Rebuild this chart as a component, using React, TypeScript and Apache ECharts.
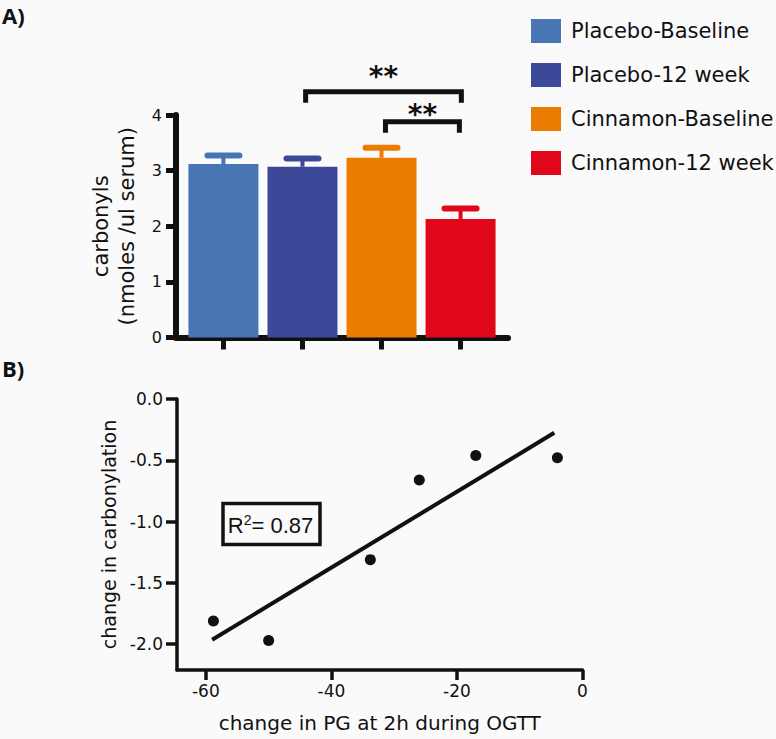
import React, { useEffect, useRef } from "react";
import * as echarts from "echarts";

// ---------- Panel A data ----------
const groups = ["Placebo-Baseline", "Placebo-12 week", "Cinnamon-Baseline", "Cinnamon-12 week"];
const groupColors = ["#4876b5", "#3c4898", "#ec7c00", "#e1071b"];
const carbonyls = [3.12, 3.07, 3.23, 2.13];
const carbonylsSem = [0.15, 0.15, 0.18, 0.19];
const barPositions = [0, 1, 2, 3];
// significance brackets: from/to in group index, levels in axis units
const bracketFrom = [1.04, 2.05];
const bracketTo = [3.01, 2.985];
const bracketLevel = [4.42, 3.88];
const bracketLeg = [4.22, 3.68];
const bracketStarY = [4.69, 4.01];
const bracketLabels = ["**", "**"];

// ---------- Panel B data ----------
const pgChange = [-58.8, -50, -33.8, -26, -17, -4];
const carbonylationChange = [-1.81, -1.97, -1.31, -0.66, -0.46, -0.48];
const scatterXTicks = [-60, -40, -20, 0];
const scatterYTicks = [0, -0.5, -1, -1.5, -2];
const fitRange = [-59, -4.5];
const rSquared = "0.87";

const FONT = "DejaVu Sans";
const INK = "#111111";

function linearFit(xs: number[], ys: number[]) {
  const n = xs.length;
  const mx = xs.reduce((a, b) => a + b, 0) / n;
  const my = ys.reduce((a, b) => a + b, 0) / n;
  let sxy = 0, sxx = 0;
  for (let i = 0; i < n; i++) {
    sxy += (xs[i] - mx) * (ys[i] - my);
    sxx += (xs[i] - mx) * (xs[i] - mx);
  }
  const slope = sxy / sxx;
  return { slope, intercept: my - slope * mx };
}

export default function App() {
  const ref = useRef<HTMLDivElement>(null);

  useEffect(() => {
    if (!ref.current) return;
    const chart = echarts.init(ref.current, null, { renderer: "svg" });
    const fit = linearFit(pgChange, carbonylationChange);
    const fitData = fitRange.map((x) => [x, fit.intercept + fit.slope * x]);

    const barSeries = groups.map((g, i) => ({
      type: "bar",
      name: g,
      xAxisIndex: 0,
      yAxisIndex: 0,
      barWidth: 70,
      barGap: "-100%",
      data: [[barPositions[i], carbonyls[i]]],
      itemStyle: { color: groupColors[i] },
      z: 2,
    }));

    const option: any = {
      animation: false,
      backgroundColor: "#fafafa",
      legend: {
        orient: "vertical",
        left: 531,
        top: 19,
        padding: 0,
        itemWidth: 30,
        itemHeight: 24,
        itemGap: 20,
        icon: "rect",
        selectedMode: false,
        data: groups,
        textStyle: { fontFamily: FONT, fontSize: 21, color: INK, padding: [0, 0, 0, 5] },
      },
      grid: [
        { left: 176, top: 115, width: 332, height: 222.5 },
        { left: 177, top: 399, width: 405.5, height: 271 },
      ],
      xAxis: [
        {
          type: "value",
          gridIndex: 0,
          min: -0.6,
          max: 3.6,
          axisLine: { show: true, onZero: false, lineStyle: { color: INK, width: 6 } },
          axisTick: { show: true, customValues: barPositions, length: 12, lineStyle: { color: INK, width: 5 } },
          axisLabel: { show: false },
          splitLine: { show: false },
        },
        {
          type: "value",
          gridIndex: 1,
          min: -64.6,
          max: 0,
          axisLine: { show: true, onZero: false, lineStyle: { color: INK, width: 3.5 } },
          axisTick: { show: true, customValues: scatterXTicks, length: 10, lineStyle: { color: INK, width: 3.5 } },
          axisLabel: { customValues: scatterXTicks, fontFamily: FONT, fontSize: 17, color: INK, margin: 12 },
          splitLine: { show: false },
          name: "change in PG at 2h during OGTT",
          nameLocation: "middle",
          nameGap: 43,
          nameTextStyle: { fontFamily: FONT, fontSize: 20, color: INK },
        },
      ],
      yAxis: [
        {
          type: "value",
          gridIndex: 0,
          min: 0,
          max: 4,
          interval: 1,
          axisLine: { show: true, onZero: false, lineStyle: { color: INK, width: 6 } },
          axisTick: { show: true, length: 10, lineStyle: { color: INK, width: 5 } },
          axisLabel: { fontFamily: FONT, fontSize: 16, color: INK, margin: 14 },
          splitLine: { show: false },
          name: "carbonyls\n(nmoles /ul serum)",
          nameLocation: "middle",
          nameRotate: 90,
          nameGap: 36,
          nameTextStyle: { fontFamily: FONT, fontSize: 21, color: INK, lineHeight: 26 },
        },
        {
          type: "value",
          gridIndex: 1,
          min: -2.21,
          max: 0,
          axisLine: { show: true, onZero: false, lineStyle: { color: INK, width: 3.5 } },
          axisTick: { show: true, customValues: scatterYTicks, length: 11, lineStyle: { color: INK, width: 3.5 } },
          axisLabel: {
            customValues: scatterYTicks,
            formatter: (v: number) => v.toFixed(1),
            fontFamily: FONT,
            fontSize: 17,
            color: INK,
            margin: 14,
          },
          splitLine: { show: false },
          name: "change in carbonylation",
          nameLocation: "middle",
          nameRotate: 90,
          nameGap: 57,
          nameTextStyle: { fontFamily: FONT, fontSize: 19, color: INK },
        },
      ],
      series: [
        ...barSeries,
        {
          type: "custom",
          name: "sem",
          xAxisIndex: 0,
          yAxisIndex: 0,
          z: 3,
          encode: { x: 0, y: [1, 2] },
          data: carbonyls.map((v, i) => [barPositions[i], v, v + carbonylsSem[i]]),
          renderItem: (params: any, api: any) => {
            const x = api.value(0);
            const base = api.coord([x, api.value(1)]);
            const top = api.coord([x, api.value(2)]);
            const color = groupColors[params.dataIndex];
            return {
              type: "group",
              children: [
                { type: "line", shape: { x1: base[0], y1: base[1], x2: top[0], y2: top[1] }, style: { stroke: color, lineWidth: 4 } },
                {
                  type: "line",
                  shape: { x1: top[0] - 16, y1: top[1], x2: top[0] + 16, y2: top[1] },
                  style: { stroke: color, lineWidth: 6, lineCap: "round" },
                },
              ],
            };
          },
        },
        {
          type: "custom",
          name: "significance",
          xAxisIndex: 0,
          yAxisIndex: 0,
          z: 4,
          clip: false,
          encode: { x: [0, 1], y: [2, 3, 4] },
          data: bracketFrom.map((f, i) => [f, bracketTo[i], bracketLevel[i], bracketLeg[i], bracketStarY[i]]),
          renderItem: (params: any, api: any) => {
            const f = api.value(0), t = api.value(1), lv = api.value(2), lg = api.value(3), sy = api.value(4);
            const p1 = api.coord([f, lg]);
            const p2 = api.coord([f, lv]);
            const p3 = api.coord([t, lv]);
            const p4 = api.coord([t, lg]);
            const s = api.coord([(f + t) / 2, sy]);
            return {
              type: "group",
              children: [
                {
                  type: "polyline",
                  shape: { points: [p1, p2, p3, p4] },
                  style: { stroke: INK, lineWidth: 5, fill: "none", lineJoin: "miter" },
                },
                {
                  type: "text",
                  x: s[0],
                  y: s[1],
                  style: {
                    text: bracketLabels[params.dataIndex],
                    fontFamily: FONT,
                    fontWeight: "bold",
                    fontSize: 28,
                    fill: INK,
                    align: "center",
                    verticalAlign: "middle",
                  },
                },
              ],
            };
          },
        },
        {
          type: "scatter",
          name: "points",
          xAxisIndex: 1,
          yAxisIndex: 1,
          symbolSize: 11,
          itemStyle: { color: INK, opacity: 1 },
          data: pgChange.map((x, i) => [x, carbonylationChange[i]]),
          z: 3,
        },
        {
          type: "line",
          name: "fit",
          xAxisIndex: 1,
          yAxisIndex: 1,
          symbol: "none",
          lineStyle: { color: INK, width: 4 },
          data: fitData,
          z: 2,
        },
      ],
      graphic: [
        {
          type: "text",
          left: 2,
          top: 4,
          style: { text: "A)", fontFamily: "Open Sans", fontWeight: "bold", fontSize: 22, fill: INK },
        },
        {
          type: "text",
          left: 2,
          top: 357,
          style: { text: "B)", fontFamily: "Open Sans", fontWeight: "bold", fontSize: 22, fill: INK },
        },
        {
          type: "rect",
          shape: { x: 223, y: 503.5, width: 97, height: 41 },
          style: { fill: "none", stroke: INK, lineWidth: 3.5 },
        },
        {
          type: "text",
          x: 270.5,
          y: 525,
          style: {
            text: "R{s|2}= " + rSquared,
            align: "center",
            verticalAlign: "middle",
            fontFamily: "Liberation Sans",
            fontSize: 22,
            fill: INK,
            rich: {
              s: { fontFamily: "Liberation Sans", fontSize: 14, verticalAlign: "top", padding: [0, 0, 10, 0], fill: INK },
            },
          },
        },
      ],
    };
    chart.setOption(option);
    return () => chart.dispose();
  }, []);

  return <div ref={ref} style={{ position: "absolute", left: 0, top: 0, width: 776, height: 739 }} />;
}
